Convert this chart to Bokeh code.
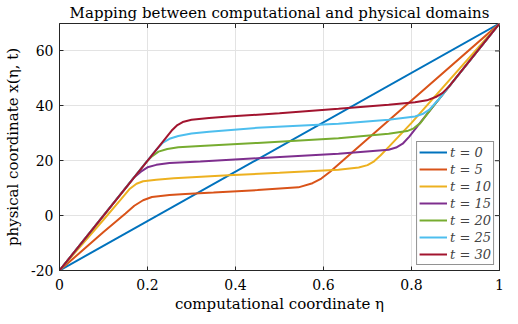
import math
from bokeh.plotting import figure
from bokeh.models import FixedTicker, Range1d
from bokeh.embed import file_html
from bokeh.resources import INLINE

# ---- data ----
eta_t0 = [0.0, 1.0]
x_t0 = [-20.0, 70.0]

eta_t5 = [0.0, 0.10, 0.15, 0.17, 0.19, 0.21, 0.25, 0.286, 0.35, 0.45, 0.543,
          0.575, 0.595, 0.615, 0.65, 0.80, 1.0]
x_t5 = [-20.0, -6.0, 0.8, 3.6, 5.6, 6.8, 7.5, 7.9, 8.4, 9.3, 10.3,
        11.8, 13.5, 16.0, 20.9, 41.9, 70.0]

eta_t10 = [0.0, 0.10, 0.14, 0.16, 0.175, 0.19, 0.22, 0.26, 0.384, 0.50, 0.634,
           0.68, 0.70, 0.715, 0.73, 0.75, 0.80, 1.0]
x_t10 = [-20.0, -1.5, 6.0, 9.8, 11.6, 12.5, 13.1, 13.6, 14.7, 15.6, 16.7,
         17.5, 18.4, 19.8, 22.0, 25.3, 33.8, 70.0]

eta_t15 = [0.0, 0.17, 0.185, 0.20, 0.22, 0.25, 0.32, 0.45, 0.634, 0.748,
           0.765, 0.78, 0.795, 0.823, 1.0]
x_t15 = [-20.0, 14.0, 16.0, 17.6, 18.5, 19.2, 19.7, 20.9, 22.5, 24.0,
         24.8, 26.2, 28.8, 34.5, 70.0]

eta_t20 = [0.0, 0.20, 0.21, 0.225, 0.245, 0.27, 0.32, 0.45, 0.634, 0.748,
           0.79, 0.805, 0.82, 0.846, 1.0]
x_t20 = [-20.0, 20.0, 21.6, 23.3, 24.3, 24.9, 25.4, 26.5, 28.2, 29.8,
         30.8, 31.8, 33.7, 39.2, 70.0]

eta_t25 = [0.0, 0.22, 0.235, 0.25, 0.27, 0.30, 0.34, 0.45, 0.634, 0.748,
           0.808, 0.825, 0.84, 0.861, 1.0]
x_t25 = [-20.0, 24.0, 26.6, 28.0, 29.0, 29.9, 30.6, 32.0, 33.5, 34.9,
         36.1, 37.0, 38.5, 42.2, 70.0]

eta_t30 = [0.0, 0.255, 0.268, 0.28, 0.30, 0.34, 0.384, 0.50, 0.634, 0.748,
           0.808, 0.835, 0.855, 0.87, 0.885, 1.0]
x_t30 = [-20.0, 31.0, 33.0, 34.1, 34.9, 35.6, 36.1, 37.3, 38.9, 40.4,
         41.3, 42.0, 43.2, 44.6, 47.0, 70.0]

series_labels = ["t = 0", "t = 5", "t = 10", "t = 15", "t = 20", "t = 25", "t = 30"]
series_colors = ["#0072BD", "#D95319", "#EDB120", "#7E2F8E", "#77AC30", "#4DBEEE", "#A2142F"]
series_eta = [eta_t0, eta_t5, eta_t10, eta_t15, eta_t20, eta_t25, eta_t30]
series_x = [x_t0, x_t5, x_t10, x_t15, x_t20, x_t25, x_t30]

x_ticks = [0, 0.2, 0.4, 0.6, 0.8, 1]
x_tick_labels = ["0", "0.2", "0.4", "0.6", "0.8", "1"]
y_ticks = [-20, 0, 20, 40, 60]
y_tick_labels = ["-20", "0", "20", "40", "60"]
x_lim = (0, 1)
y_lim = (-20, 70)

FONT = "DejaVu Serif"
AXC = "#262626"

p = figure(frame_width=440, frame_height=247, x_range=Range1d(*x_lim), y_range=Range1d(*y_lim),
           output_backend="svg", toolbar_location=None,
           min_border_left=53, min_border_right=9, min_border_top=21, min_border_bottom=44)

p.title.text = "Mapping between computational and physical domains"
p.title.align = "center"
p.title.text_font = FONT
p.title.text_font_size = "15px"
p.title.text_font_style = "normal"
p.title.text_color = "black"
p.title.standoff = 3

for ax, ticks, labels in [(p.xaxis[0], x_ticks, x_tick_labels), (p.yaxis[0], y_ticks, y_tick_labels)]:
    ax.ticker = FixedTicker(ticks=ticks)
    ax.major_label_overrides = {t: l for t, l in zip(ticks, labels)}
    ax.major_tick_in = 4
    ax.major_tick_out = 0
    ax.minor_tick_line_color = None
    ax.major_label_text_font = FONT
    ax.major_label_text_font_size = "14px"
    ax.major_label_text_color = "black"
    ax.axis_line_color = AXC
    ax.major_tick_line_color = AXC
    ax.axis_label_text_font = FONT
    ax.axis_label_text_font_size = "15px"
    ax.axis_label_text_font_style = "normal"
    ax.axis_label_text_color = "black"

p.xaxis[0].major_label_standoff = 8
p.xaxis[0].axis_label_standoff = 2
p.yaxis[0].major_label_standoff = 6
p.yaxis[0].axis_label_standoff = 6
p.xaxis[0].axis_label = "computational coordinate η"
p.yaxis[0].axis_label = "physical coordinate x(η, t)"

p.xgrid.ticker = FixedTicker(ticks=x_ticks)
p.ygrid.ticker = FixedTicker(ticks=y_ticks)
p.grid.grid_line_color = "#e3e3e3"
p.grid.grid_line_width = 1
p.outline_line_color = AXC
p.outline_line_alpha = 1

# inward tick marks on the top and right edges of the box (half of each dash is clipped by the frame)
p.scatter(x_ticks, [y_lim[1]] * len(x_ticks), marker="dash", angle=math.pi / 2, size=9,
          line_color=AXC, line_width=1)
p.scatter([x_lim[1]] * len(y_ticks), y_ticks, marker="dash", size=9,
          line_color=AXC, line_width=1)

for eta, xv, col, lab in zip(series_eta, series_x, series_colors, series_labels):
    p.line(eta, xv, line_color=col, line_width=2, legend_label=lab)

lg = p.legend[0]
lg.location = "bottom_right"
lg.margin = 5
lg.padding = 2
lg.spacing = 1
lg.glyph_width = 28
lg.glyph_height = 16
lg.label_height = 16
lg.label_standoff = 3
lg.label_text_font = FONT
lg.label_text_font_size = "13px"
lg.label_text_font_style = "italic"
lg.border_line_color = AXC
lg.border_line_width = 1
lg.background_fill_alpha = 1

open("out.html", "w").write(file_html(p, INLINE))
